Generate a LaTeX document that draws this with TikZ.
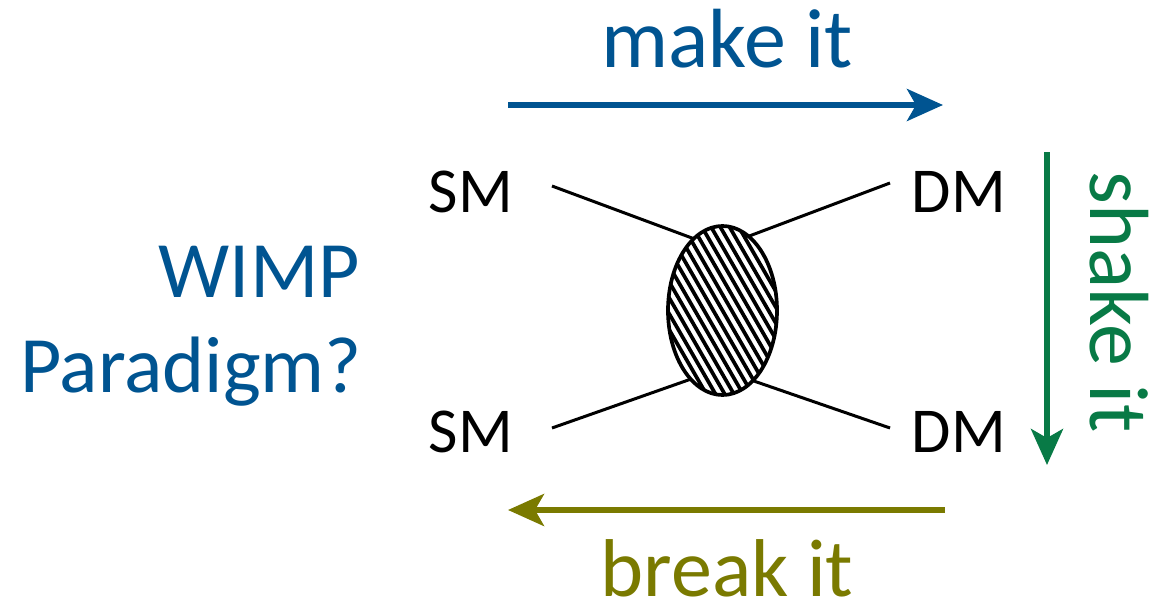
\documentclass[tikz,border=0pt]{standalone}
\usepackage{fontspec}
\setmainfont{Carlito}
\usetikzlibrary{arrows.meta,calc}
\definecolor{wblue}{RGB}{0,84,145}
\definecolor{wgreen}{RGB}{8,122,70}
\definecolor{wolive}{RGB}{122,122,0}
\tikzset{
  lbl/.style={font=\fontsize{64}{72}\selectfont, inner sep=0pt},
  big/.style={font=\fontsize{84}{90}\selectfont, inner sep=0pt},
  huge/.style={font=\fontsize{80}{95}\selectfont, inner sep=0pt, align=right},
  leg/.style={line width=3pt},
  flow/.style={line width=5.5pt, -{Stealth[length=36pt,width=32pt,inset=9pt]}},
}
\begin{document}
\begin{tikzpicture}[x=1pt,y=-1pt]
\useasboundingbox (0,0) rectangle (1156,615);

% external legs
\node[lbl, anchor=base] (sm1) at (471,212) {SM};
\node[lbl, anchor=base] (dm1) at (959,212) {DM};
\node[lbl, anchor=base] (sm2) at (471,452) {SM};
\node[lbl, anchor=base] (dm2) at (959,452) {DM};

\coordinate (blob) at (722.5,310.5);
\coordinate (a1) at (552,186);
\coordinate (a2) at (890,183);
\coordinate (a3) at (552,428);
\coordinate (a4) at (890,428);
\coordinate (j1) at (700,241);
\coordinate (j2) at (744,238);
\coordinate (j3) at (694,378);
\coordinate (j4) at (748,379);
\draw[leg] (a1) -- (j1);
\draw[leg] (a2) -- (j2);
\draw[leg] (a3) -- (j3);
\draw[leg] (a4) -- (j4);

% hatched blob
\fill[white] (blob) ellipse [x radius=54.5, y radius=84.5];
\begin{scope}
  \clip (blob) ellipse [x radius=54.5, y radius=84.5];
  \foreach \k in {-30,...,30} {
    \draw[line width=3.7pt] ($(blob)+(\k*9.2,0)+(-60,-104)$) -- ++(120,208);
  }
\end{scope}
\draw[line width=3.7pt] (blob) ellipse [x radius=54.5, y radius=84.5];

% process arrows
\coordinate (m0) at (508,105);
\coordinate (m1) at (943,105);
\draw[flow, wblue] (m0) -- (m1);
\node[big, text=wblue, anchor=base] (make) at (727,68) {make it};

\coordinate (s0) at (1047,152);
\coordinate (s1) at (1047,465);
\draw[flow, wgreen] (s0) -- (s1);
\node[big, text=wgreen, rotate=-90, anchor=base] (shake) at (1090,302) {shake it};

\coordinate (b0) at (945,510);
\coordinate (b1) at (508,510);
\draw[flow, wolive] (b0) -- (b1);
\node[big, text=wolive, anchor=base, font=\fontsize{82}{90}\selectfont] (break) at (727,596) {break it};

% title
\node[huge, text=wblue, anchor=base east] (wimp) at (360,297) {WIMP};
\node[huge, text=wblue, anchor=base east] (para) at (362,392) {Paradigm?};
\end{tikzpicture}
\end{document}
